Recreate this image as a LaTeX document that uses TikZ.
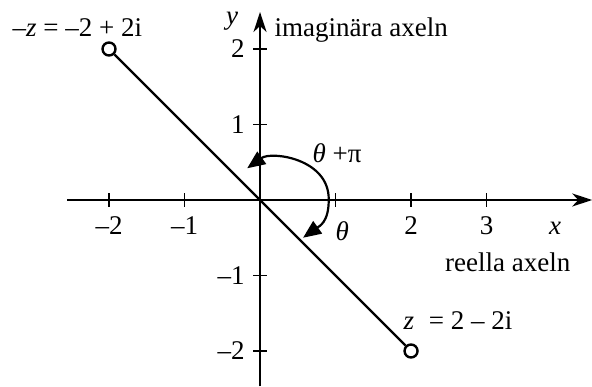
\documentclass[tikz,border=0pt]{standalone}
\usepackage{fontspec}
\setmainfont{Liberation Serif}
\usetikzlibrary{arrows.meta}

\begin{document}
\begin{tikzpicture}[x=37.75pt,y=37.75pt,font=\fontsize{13.5}{16}\selectfont,line width=1.1pt,
	axis/.style={-{Stealth[length=10pt,width=6.5pt,inset=3pt]}},
	turn/.style={-{Triangle[length=9pt,width=7.5pt]}},
	tick/.style={line width=0.7pt},
	pt/.style={circle,draw,fill=white,inner sep=0pt,minimum size=6.5pt,line width=1.2pt}]
				\useasboundingbox (-3.444,-2.464) rectangle (4.397,2.649);
				%\draw[color=gray,step=0.5, help lines,opacity=0.3] (-3.4,-2.4) grid (4.4,2.6); %help grids
				\coordinate (O) at (0,0);
				\coordinate (xmin) at (-2.55,0);
				\coordinate (xmax) at (4.40,0);
				\coordinate (ymin) at (0,-2.47);
				\coordinate (ymax) at (0,2.49);

				\draw[axis] (xmin) -- (xmax);
				\draw[axis] (ymin) -- (ymax);
				\foreach \x in {-2,-1,1,2,3}
					\draw[tick] (\x,0) ++(0,-3.5pt) -- ++(0,7pt);
				\foreach \y in {-2,-1,1,2}
					\draw[tick] (0,\y) ++(-3.5pt,0) -- ++(7pt,0);

				\foreach \x/\t in {-2/–2,-1/–1,2/2,3/3}
					\node[anchor=base] (xl\x) at (\x,-0.46) {\t};
				\foreach \y/\t in {-2/–2,-1/–1,1/1,2/2}
					\node[anchor=east] (yl\y) at (-0.1,\y) {\t};

				\node[anchor=base] (xname) at (3.91,-0.46) {\textit{x}};
				\node[anchor=base] (yname) at (-0.37,2.33) {\textit{y}};
				\node[anchor=base west] (imag) at (0.09,2.16) {imaginära axeln};
				\node[anchor=base] (real) at (3.28,-0.95) {reella axeln};

				% the two points
				\node[pt] (mz) at (-2,2) {};
				\node[pt] (z) at (2,-2) {};
				\draw (mz) -- (z);
				\node[anchor=base] (mzl) at (-2.42,2.16) {–\textit{z} = –2 + 2i};
				\node[anchor=base west] (zl) at (1.80,-1.72) {\textit{z}\hspace{4pt} = 2 – 2i};

				% angles
				\coordinate (th0) at (0.91,0);
				\draw[turn] (th0) .. controls (0.92,0.55) and (0.15,0.65) .. (-0.17,0.42);
				\draw[turn] (th0) .. controls (0.91,-0.3) and (0.78,-0.35) .. (0.57,-0.50);
				\node[anchor=base] (thpi) at (1.02,0.50) {\textit{θ} +π};
				\node[anchor=base] (th) at (1.09,-0.53) {\textit{θ}};
\end{tikzpicture}
\end{document}
